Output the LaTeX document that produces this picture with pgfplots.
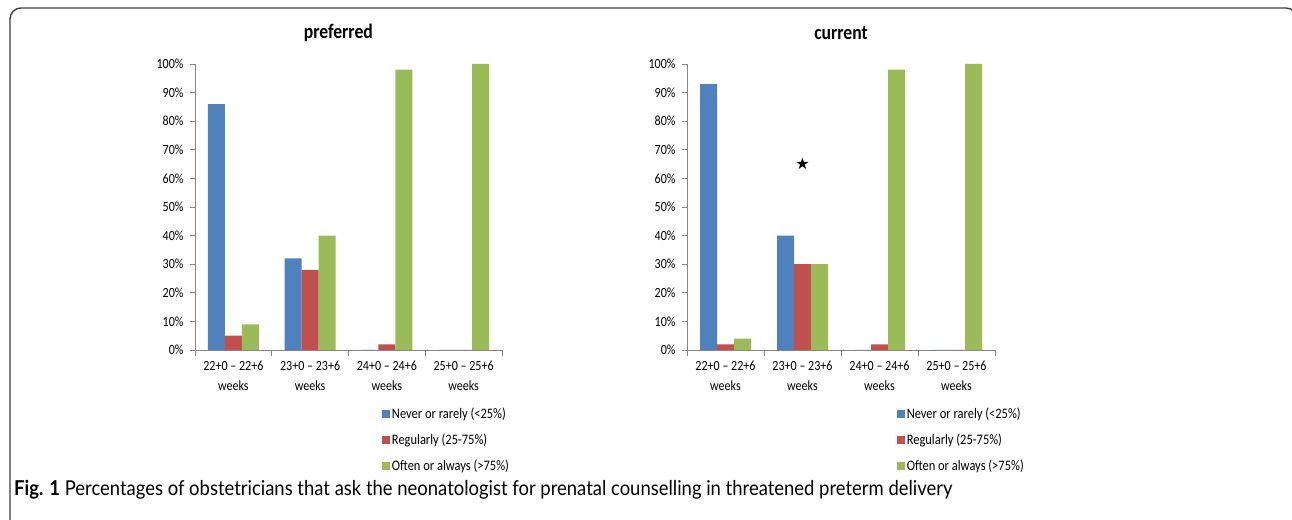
\documentclass[border=0pt]{standalone}
\usepackage{pgfplots}
\pgfplotsset{compat=1.18}
\usepackage{fontspec}
\setmainfont{Carlito}[FakeStretch=0.86]
\newfontfamily\capfont{Lato}[FakeStretch=0.9]
\newfontfamily\symfont{DejaVu Sans}

\definecolor{xlblue}{HTML}{4F81BD}
\definecolor{xlred}{HTML}{C0504D}
\definecolor{xlgreen}{HTML}{9BBB59}
\definecolor{axgray}{HTML}{868686}

\pgfplotsset{
  panel/.style={
    scale only axis,
    width=307pt, height=286pt,
    ybar=0pt, bar width=17pt,
    xmin=-0.5, xmax=3.5, ymin=0, ymax=100,
    axis x line*=bottom, axis y line*=left,
    axis line style={draw=axgray, line width=0.8pt},
    tick style={draw=axgray, line width=0.8pt},
    tick align=outside,
    xtick={0,1,2,3},
    xticklabels={{22+0 – 22+6\\weeks},{23+0 – 23+6\\weeks},{24+0 – 24+6\\weeks},{25+0 – 25+6\\weeks}},
    major x tick style={draw=none},
    minor xtick={-0.5,0.5,1.5,2.5,3.5},
    minor tick length=6pt,
    xticklabel style={align=center, font=\fontsize{14}{19.5}\selectfont, yshift=-3pt},
    ytick={0,10,...,100},
    major tick length=5pt,
    yticklabel={\pgfmathprintnumber{\tick}\%},
    yticklabel style={font=\fontsize{14}{15}\selectfont, xshift=-3pt},
    /pgf/number format/assume math mode=true,
    title style={font=\bfseries\fontsize{20.5}{22}\selectfont, anchor=center, yshift=25pt},
    legend image code/.code={\fill[#1] (0pt,-4pt) rectangle (8pt,4pt);},
    legend cell align=left,
    legend style={draw=none, fill=none, anchor=north west,
      font=\fontsize{14.5}{16}\selectfont, row sep=11pt,
      inner sep=0pt, nodes={inner sep=1.5pt}},
  }
}

\begin{document}
\begin{tikzpicture}[x=1pt,y=1pt]
\useasboundingbox (0,0) rectangle (1292,519);
\draw[line width=1.4pt, black!75, rounded corners=11pt] (10,-6) -- (10,511) -- (1297,511) -- (1297,-6);

\begin{axis}[panel, at={(195pt,169pt)}, anchor=south west,
  title={preferred}, title style={at={(axis description cs:0.467,1)}},
  legend style={at={(axis description cs:0.61,-0.195)}}]
\addplot[fill=xlblue, draw=none] coordinates {(0,86) (1,32) (2,0) (3,0)};
\addplot[fill=xlred, draw=none] coordinates {(0,5) (1,28) (2,2) (3,0)};
\addplot[fill=xlgreen, draw=none] coordinates {(0,9) (1,40) (2,98) (3,100)};
\legend{Never or rarely (<25\%),Regularly (25-75\%),Often or always (>75\%)}
\end{axis}

\begin{axis}[panel, at={(687pt,169pt)}, anchor=south west, width=308pt,
  title={current}, title style={at={(axis description cs:0.5,1)}},
  legend style={at={(axis description cs:0.682,-0.195)}}]
\addplot[fill=xlblue, draw=none] coordinates {(0,93) (1,40) (2,0) (3,0)};
\addplot[fill=xlred, draw=none] coordinates {(0,2) (1,30) (2,2) (3,0)};
\addplot[fill=xlgreen, draw=none] coordinates {(0,4) (1,30) (2,98) (3,100)};
\legend{Never or rarely (<25\%),Regularly (25-75\%),Often or always (>75\%)}
\addplot[sharp plot, only marks, forget plot, mark=text,
  text mark={\symfont\fontsize{16}{16}\selectfont ★}, text mark as node=true]
  coordinates {(1,65)};
\end{axis}

\node[anchor=west, inner sep=0pt] at (14,29) {\capfont\fontsize{20.5}{22}\selectfont\textbf{Fig. 1} Percentages of obstetricians that ask the neonatologist for prenatal counselling in threatened preterm delivery};
\end{tikzpicture}
\end{document}
